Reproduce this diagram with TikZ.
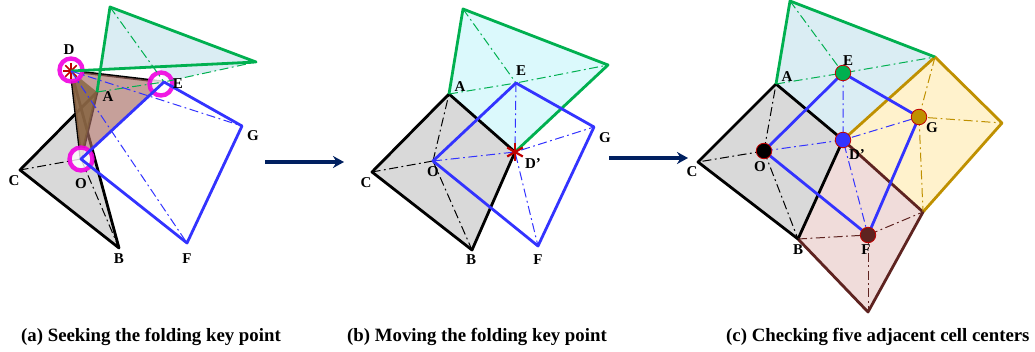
\documentclass[tikz,border=0pt]{standalone}
\usepackage{fontspec}
\setmainfont{Liberation Serif}
\usetikzlibrary{arrows.meta}
\definecolor{cgreen}{HTML}{00B050}
\definecolor{cblue}{HTML}{3333FF}
\definecolor{cgold}{HTML}{BF9000}
\definecolor{cbrown}{HTML}{5E2320}
\definecolor{cnavy}{HTML}{002060}
\definecolor{cgrey}{HTML}{D9D9D9}
\definecolor{cpale}{HTML}{DAEDF3}
\definecolor{ccyan}{HTML}{DBF9FC}
\definecolor{cyellow}{HTML}{FFF2CC}
\definecolor{cpink}{HTML}{F0DCDA}
\definecolor{cmag}{HTML}{F000E0}
\definecolor{cred}{HTML}{C00000}
\definecolor{cfoldpale}{HTML}{A86E64}
\definecolor{cfolddark}{HTML}{86643F}
\tikzset{
  bold edge/.style={line width=2.8pt,line join=round},
  dd/.style={line width=1pt,dash pattern=on 9pt off 3.5pt on 1.8pt off 3.5pt},
  lab/.style={font=\bfseries\fontsize{15}{15}\selectfont,inner sep=0pt},
  captext/.style={font=\bfseries\fontsize{18.8}{19}\selectfont,inner sep=0pt,anchor=west},
  flow/.style={line width=3.4pt,cnavy,-{Stealth[length=11pt,width=12pt]}},
  ring/.style={circle,draw=cmag,line width=4.4pt,minimum size=23pt,inner sep=0pt,fill=white,fill opacity=.8,draw opacity=.9},
  dotmark/.style={circle,draw=cred,line width=0.8pt,minimum size=15.5pt,inner sep=0pt},
  spoke/.style={cred,line width=1.7pt}
}
\begin{document}
\begin{tikzpicture}[x=1pt,y=-1pt]
\useasboundingbox[fill=white] (0,0) rectangle (1035,352);
% ---------- panel a
\coordinate (aA) at (97,92); \coordinate (aB) at (119,248); \coordinate (aC) at (20,170);
\coordinate (aD) at (71,71); \coordinate (aO) at (81,159); \coordinate (aE) at (164,82);
\coordinate (aF) at (187,243); \coordinate (aG) at (242,126);
\coordinate (aT) at (110,7); \coordinate (aR) at (256,62);
\coordinate (aX) at (101,68); \coordinate (aY) at (160,67);
\fill[cgrey] (aC) -- (aA) -- (aO) -- (93,150) -- (aB) -- cycle;
\fill[cpale] (aX) -- (aT) -- (aR) -- (aE) -- (aY) -- cycle;
\draw[bold edge] (aA) -- (aC) -- (aB) -- (aD) -- (aE);
\draw[bold edge] (aD) -- (aO) -- (aA);
\fill[fill=cfoldpale,fill opacity=.65] (aD) -- (aE) -- (aO) -- cycle;
\fill[fill=cfolddark,fill opacity=.8] (aD) -- (aA) -- (aO) -- cycle;
\draw[dd] (aO) -- (aC);
\draw[dd] (aO) -- (aB);
\node[ring] (ringD) at (71,70) {};
\node[ring] (ringE) at (161,84) {};
\node[ring] (ringO) at (81,159) {};
\foreach \a in {0,45,...,315} \draw[spoke] (aD) -- ++(\a:8pt);
\draw[bold edge,cgreen] (aA) -- (aT) -- (aR) -- (aD);
\draw[dd,cgreen] (aA) -- (aE) -- (aR);
\draw[dd,cgreen] (aT) -- (aE);
\draw[bold edge,cblue] (aO) -- (aE) -- (aG) -- (aF) -- cycle;
\draw[dd,cblue] (aD) -- (aG);
\draw[dd,cblue] (aD) -- (aF);
\node[lab] (lDa) at (69,50) {D};
\node[lab] (lAa) at (108,97) {A};
\node[lab] (lEa) at (178,84) {E};
\node[lab] (lOa) at (81,184) {O};
\node[lab] (lCa) at (14,181) {C};
\node[lab] (lBa) at (119,259) {B};
\node[lab] (lFa) at (187,259) {F};
\node[lab] (lGa) at (253,136) {G};
% ---------- panel b
\coordinate (bA) at (449,94); \coordinate (bB) at (472,250); \coordinate (bC) at (372,172);
\coordinate (bD) at (515,152); \coordinate (bO) at (433,161); \coordinate (bE) at (516,83);
\coordinate (bF) at (538,246); \coordinate (bG) at (594,127);
\coordinate (bT) at (463,9); \coordinate (bR) at (608,65);
\fill[cgrey] (bA) -- (bC) -- (bB) -- (bD) -- cycle;
\fill[ccyan] (bA) -- (bT) -- (bR) -- (bD) -- cycle;
\draw[bold edge] (bD) -- (bA) -- (bC) -- (bB) -- cycle;
\draw[bold edge,cgreen] (bA) -- (bT) -- (bR) -- (bD);
\draw[dd] (bO) -- (bA);
\draw[dd] (bO) -- (bC);
\draw[dd] (bO) -- (bB);
\draw[dd,cgreen] (bA) -- (bE) -- (bR);
\draw[dd,cgreen] (bT) -- (bE);
\draw[dd,cblue] (bO) -- (bD) -- (bG);
\draw[dd,cblue] (bE) -- (bD) -- (bF);
\draw[bold edge,cblue] (bO) -- (bE) -- (bG) -- (bF) -- cycle;
\foreach \a in {30,90,...,330} \draw[spoke,line width=2.2pt] (bD) -- ++(\a:9pt);
\node[lab] (lAb) at (460,87) {A};
\node[lab] (lEb) at (521,71) {E};
\node[lab] (lDb) at (533,164) {D’};
\node[lab] (lOb) at (433,172) {O};
\node[lab] (lCb) at (366,183) {C};
\node[lab] (lBb) at (471,260) {B};
\node[lab] (lFb) at (538,260) {F};
\node[lab] (lGb) at (605,138) {G};
% ---------- panel c
\coordinate (cA) at (776,84); \coordinate (cB) at (798,239); \coordinate (cC) at (698,162);
\coordinate (cD) at (843,140); \coordinate (cO) at (764,151); \coordinate (cE) at (843,73);
\coordinate (cF) at (868,235); \coordinate (cG) at (919,117);
\coordinate (cT) at (790,1); \coordinate (cR) at (935,57);
\coordinate (cS) at (1002,123); \coordinate (cU) at (923,212); \coordinate (cV) at (868,312);
\fill[cgrey] (cA) -- (cC) -- (cB) -- (cD) -- cycle;
\fill[cpale] (cA) -- (cT) -- (cR) -- (cD) -- cycle;
\fill[cyellow] (cD) -- (cR) -- (cS) -- (cU) -- cycle;
\fill[cpink] (cD) -- (cU) -- (cV) -- (cB) -- cycle;
\draw[bold edge,cgold] (cD) -- (cR) -- (cS) -- (cU);
\draw[bold edge,cbrown] (cD) -- (cU) -- (cV) -- (cB);
\draw[bold edge] (cD) -- (cA) -- (cC) -- (cB) -- cycle;
\draw[bold edge,cgreen] (cA) -- (cT) -- (cR);
\draw[dd] (cO) -- (cA);
\draw[dd] (cO) -- (cC);
\draw[dd] (cO) -- (cB);
\draw[dd,cgreen] (cA) -- (cE) -- (cR);
\draw[dd,cgreen] (cT) -- (cE);
\draw[dd,cgold] (cR) -- (cG) -- (cS);
\draw[dd,cgold] (cG) -- (cU);
\draw[dd,cbrown] (cB) -- (cF) -- (cU);
\draw[dd,cbrown] (cF) -- (cV);
\draw[dd,cblue] (cO) -- (cD) -- (cG);
\draw[dd,cblue] (cE) -- (cD) -- (cF);
\draw[bold edge,cblue] (cO) -- (cE) -- (cG) -- (cF) -- cycle;
\node[dotmark,fill=black] (dO) at (cO) {};
\node[dotmark,fill=cgreen] (dE) at (cE) {};
\node[dotmark,fill=cgold] (dG) at (cG) {};
\node[dotmark,fill=cbrown] (dF) at (cF) {};
\node[dotmark,fill=cblue] (dD) at (cD) {};
\node[lab] (lAc) at (787,77) {A};
\node[lab] (lEc) at (848,61) {E};
\node[lab] (lDc) at (857,155) {D’};
\node[lab] (lGc) at (932,128) {G};
\node[lab] (lOc) at (760,167) {O};
\node[lab] (lCc) at (692,172) {C};
\node[lab] (lBc) at (798,250) {B};
\node[lab] (lFc) at (866,250) {F};
% ---------- arrows
\coordinate (f1s) at (265,162); \coordinate (f1e) at (344,162);
\coordinate (f2s) at (609,158); \coordinate (f2e) at (688,158);
\draw[flow] (f1s) -- (f1e);
\draw[flow] (f2s) -- (f2e);
% ---------- captions
\node[captext] (capa) at (21,337) {(a) Seeking the folding key point};
\node[captext] (capb) at (347,337) {(b) Moving the folding key point};
\node[captext] (capc) at (726,337) {(c) Checking five adjacent cell centers};
\end{tikzpicture}
\end{document}
